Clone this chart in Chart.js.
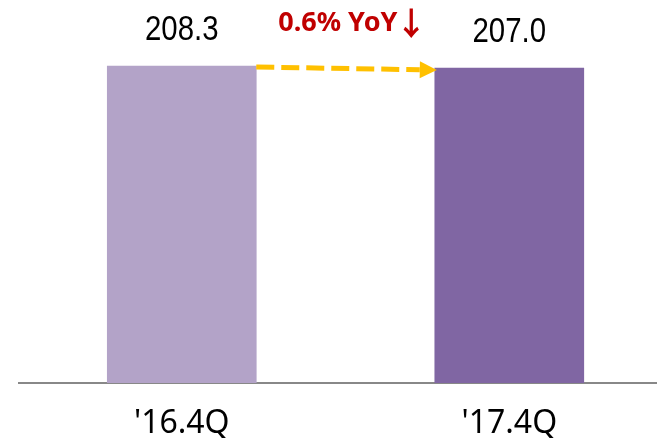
<!DOCTYPE html>
<html>
<head>
<meta charset="utf-8">
<script src="https://cdn.jsdelivr.net/npm/chart.js@4.4.0/dist/chart.umd.min.js"></script>
<style>
  html, body { margin: 0; padding: 0; background: #ffffff; }
  #wrap { width: 657px; height: 438px; }
</style>
</head>
<body>
<div id="wrap"><canvas id="barChart" width="657" height="438"></canvas></div>
<script>
// data
const quarters = ["'16.4Q", "'17.4Q"];
const positions = [0, 1];
const values = [208.3, 207.0];
const valueLabels = ['208.3', '207.0'];
const changeText = '0.6% YoY';
const changeArrow = '\u2193';
const barColors = ['#b3a3c8', '#8066a3'];

// value labels + yoy arrow
const annotations = {
  id: 'annotations',
  afterDatasetsDraw(chart) {
    const ctx = chart.ctx;
    const bars = chart.getDatasetMeta(0).data;
    ctx.save();

    // numbers over the bars (narrow look)
    ctx.fillStyle = '#000000';
    ctx.font = '35px "Liberation Sans", Arial, sans-serif';
    ctx.textAlign = 'center';
    ctx.textBaseline = 'middle';
    bars.forEach((bar, i) => {
      ctx.save();
      ctx.translate(bar.x, bar.y - 36);
      ctx.scale(0.84, 1);
      ctx.fillText(valueLabels[i], 0, 0);
      ctx.restore();
    });

    // dashed arrow from bar 1 to bar 2
    const b1 = bars[0], b2 = bars[1];
    const x1 = b1.x + b1.width / 2;
    const y1 = b1.y + 1;
    const x2 = b2.x - b2.width / 2 + 2;
    const y2 = b2.y + 2;
    const head = 17;
    const ang = Math.atan2(y2 - y1, x2 - x1);
    const hx = x2 - head * Math.cos(ang);
    const hy = y2 - head * Math.sin(ang);
    ctx.strokeStyle = '#ffc000';
    ctx.fillStyle = '#ffc000';
    ctx.lineWidth = 5;
    ctx.setLineDash([18, 7]);
    ctx.beginPath();
    ctx.moveTo(x1, y1);
    ctx.lineTo(hx, hy);
    ctx.stroke();
    ctx.setLineDash([]);
    ctx.beginPath();
    ctx.moveTo(x2, y2);
    ctx.lineTo(hx + 8.5 * Math.sin(ang), hy - 8.5 * Math.cos(ang));
    ctx.lineTo(hx - 8.5 * Math.sin(ang), hy + 8.5 * Math.cos(ang));
    ctx.closePath();
    ctx.fill();

    // yoy text
    ctx.fillStyle = '#c00000';
    ctx.textAlign = 'left';
    ctx.font = 'bold 27px "Noto Sans", sans-serif';
    ctx.fillText(changeText, x1 + 22, 23);
    ctx.textAlign = 'center';
    ctx.font = 'bold 32px "Noto Sans CJK KR", "DejaVu Sans", sans-serif';
    ctx.fillText(changeArrow, x1 + 155, 23);
    ctx.restore();
  }
};

new Chart(document.getElementById('barChart').getContext('2d'), {
  type: 'bar',
  data: {
    datasets: [{
      data: positions.map((p, i) => ({ x: p, y: values[i] })),
      backgroundColor: barColors,
      borderWidth: 0,
      barThickness: 149
    }]
  },
  options: {
    responsive: false,
    animation: false,
    layout: { padding: { left: 19, right: 0, top: 0, bottom: 0 } },
    scales: {
      x: {
        type: 'linear',
        offset: false,
        min: -0.497,
        max: 1.451,
        afterBuildTicks: axis => { axis.ticks = positions.map(v => ({ value: v })); },
        afterFit: axis => { axis.height = 55; },
        ticks: {
          color: '#000000',
          padding: 14,
          font: { family: '"Noto Sans", sans-serif', size: 32 },
          callback: v => quarters[v]
        },
        grid: { display: false },
        border: { display: true, color: '#888888', width: 2 }
      },
      y: {
        display: false,
        min: 0,
        max: 251.7
      }
    },
    plugins: {
      legend: { display: false },
      tooltip: { enabled: false }
    }
  },
  plugins: [annotations]
});
</script>
</body>
</html>
